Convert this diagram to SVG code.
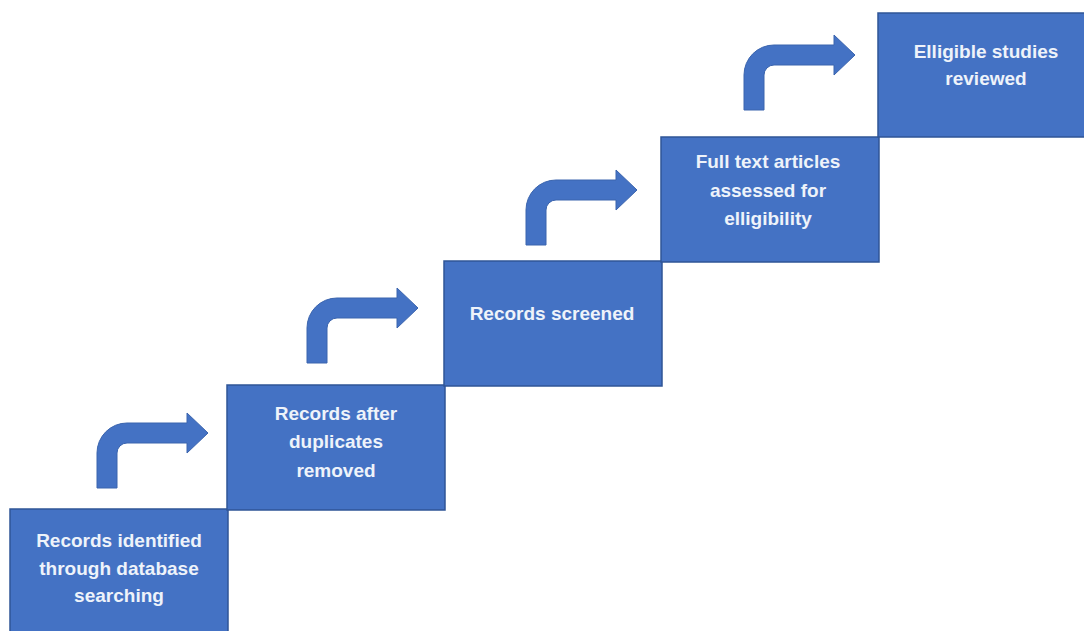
<svg xmlns="http://www.w3.org/2000/svg" xmlns:xlink="http://www.w3.org/1999/xlink" width="1084" height="631" viewBox="0 0 1084 631">
<style>
.box{fill:#4472C4;stroke:#2F5597;stroke-width:1.5}
.lbl{font-family:"Liberation Sans",Arial,sans-serif;font-size:19px;font-weight:bold;fill:#EEF3FA;text-anchor:middle}
.arr{fill:#4472C4;stroke:#3A64AE;stroke-width:1}
</style>
<defs>
<path id="bent" d="M0,0 L0,-35 A30,30 0 0 1 30,-65 L90,-65 L90,-75 L111,-55 L90,-35 L90,-45 L30,-45 A10,10 0 0 0 20,-35 L20,0 Z"/>
</defs>
<rect width="1084" height="631" fill="#ffffff"/>
<g id="connectors">
<use xlink:href="#bent" class="arr" transform="translate(97,488)"/>
<use xlink:href="#bent" class="arr" transform="translate(307,363)"/>
<use xlink:href="#bent" class="arr" transform="translate(526,245)"/>
<use xlink:href="#bent" class="arr" transform="translate(744,110)"/>
</g>
<g id="node1">
<rect class="box" x="10" y="509" width="218" height="130"/>
<text class="lbl" x="119" y="547">Records identified</text>
<text class="lbl" x="119" y="575">through database</text>
<text class="lbl" x="119" y="602">searching</text>
</g>
<g id="node2">
<rect class="box" x="227" y="385" width="218" height="125"/>
<text class="lbl" x="336" y="420">Records after</text>
<text class="lbl" x="336" y="448">duplicates</text>
<text class="lbl" x="336" y="477">removed</text>
</g>
<g id="node3">
<rect class="box" x="444" y="261" width="218" height="125"/>
<text class="lbl" x="552" y="320">Records screened</text>
</g>
<g id="node4">
<rect class="box" x="661" y="137" width="218" height="125"/>
<text class="lbl" x="768" y="168">Full text articles</text>
<text class="lbl" x="768" y="197">assessed for</text>
<text class="lbl" x="768" y="225">elligibility</text>
</g>
<g id="node5">
<rect class="box" x="878" y="13" width="218" height="124"/>
<text class="lbl" x="986" y="58">Elligible studies</text>
<text class="lbl" x="986" y="85">reviewed</text>
</g>
</svg>
